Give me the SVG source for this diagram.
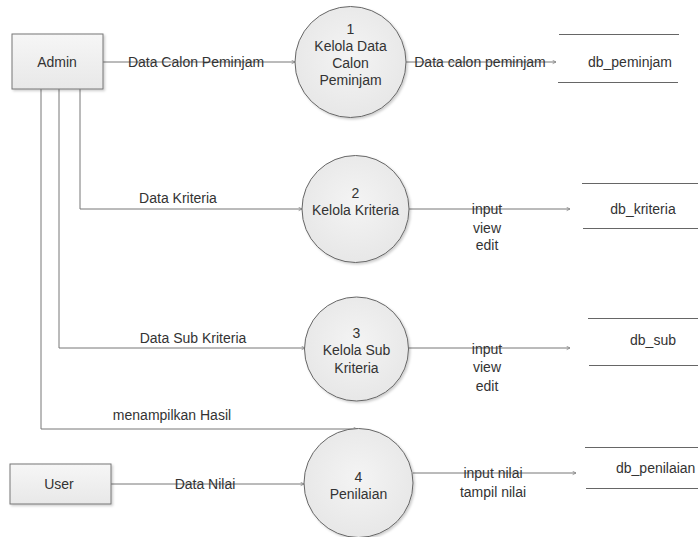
<svg xmlns="http://www.w3.org/2000/svg" width="698" height="537" viewBox="0 0 698 537">
  <defs>
    <linearGradient id="boxFill" x1="0" y1="0" x2="0" y2="1">
      <stop offset="0" stop-color="#f6f6f6"/>
      <stop offset="1" stop-color="#e8e8e8"/>
    </linearGradient>
    <radialGradient id="procFill" cx="0.5" cy="0.45" r="0.6">
      <stop offset="0" stop-color="#f4f4f4"/>
      <stop offset="1" stop-color="#e6e6e6"/>
    </radialGradient>
    <marker id="arrow" viewBox="0 0 6 6" refX="5" refY="3" markerWidth="5" markerHeight="5" orient="auto" markerUnits="userSpaceOnUse">
      <path d="M1,1 L5,3 L1,5" fill="none" stroke="#888" stroke-width="1"/>
    </marker>
    <filter id="shadow" x="-10%" y="-10%" width="130%" height="130%">
      <feDropShadow dx="1.5" dy="1.5" stdDeviation="1" flood-color="#000" flood-opacity="0.2"/>
    </filter>
  </defs>
  <style>
    text { font-family: "Liberation Sans", Arial, sans-serif; font-size: 14px; fill: #333; }
    .c { text-anchor: middle; dominant-baseline: central; }
    .entity { fill: url(#boxFill); stroke: #777; stroke-width: 1; filter: url(#shadow); }
    .proc { fill: url(#procFill); stroke: #666; stroke-width: 1; filter: url(#shadow); }
    .store { stroke: #666; stroke-width: 1; fill: none; }
    .flow { fill: none; stroke: #777; stroke-width: 1; marker-end: url(#arrow); }
  </style>
  <rect width="698" height="537" fill="#fff"/>

  <!-- data flows -->
  <g id="connectors">
    <path class="flow" d="M103,62 H295"/>
    <path class="flow" d="M406,62 H556"/>
    <path class="flow" d="M80,89 V209 H302"/>
    <path class="flow" d="M409,209 H570"/>
    <path class="flow" d="M59,89 V348 H305"/>
    <path class="flow" d="M408,348 H570"/>
    <path class="flow" d="M41,89 V429 H357"/>
    <path class="flow" d="M111,484 H304"/>
    <path class="flow" d="M413,473 H576"/>
    <text class="c" x="196" y="62">Data Calon Peminjam</text>
    <text class="c" x="480" y="62">Data calon peminjam</text>
    <text class="c" x="178" y="198">Data Kriteria</text>
    <text class="c" x="487" y="209">input</text>
    <text class="c" x="487" y="228">view</text>
    <text class="c" x="487" y="245">edit</text>
    <text class="c" x="193" y="338">Data Sub Kriteria</text>
    <text class="c" x="487" y="349">input</text>
    <text class="c" x="487" y="367">view</text>
    <text class="c" x="487" y="386">edit</text>
    <text class="c" x="172" y="415">menampilkan Hasil</text>
    <text class="c" x="205" y="484">Data Nilai</text>
    <text class="c" x="493" y="473">input nilai</text>
    <text class="c" x="493" y="492">tampil nilai</text>
  </g>

  <!-- external entities -->
  <g id="admin">
    <rect class="entity" x="12" y="34" width="91" height="55"/>
    <text class="c" x="57" y="62">Admin</text>
  </g>
  <g id="user">
    <rect class="entity" x="10" y="464" width="101" height="40"/>
    <text class="c" x="59" y="484">User</text>
  </g>

  <!-- processes -->
  <g id="proc1">
    <circle class="proc" cx="350.5" cy="62" r="55.5"/>
    <text class="c" x="350.5" y="29">1</text>
    <text class="c" x="350.5" y="46">Kelola Data</text>
    <text class="c" x="350.5" y="63">Calon</text>
    <text class="c" x="350.5" y="80">Peminjam</text>
  </g>
  <g id="proc2">
    <circle class="proc" cx="355.5" cy="209" r="53.5"/>
    <text class="c" x="355.5" y="193">2</text>
    <text class="c" x="355.5" y="210">Kelola Kriteria</text>
  </g>
  <g id="proc3">
    <circle class="proc" cx="356.5" cy="349" r="52"/>
    <text class="c" x="356.5" y="333">3</text>
    <text class="c" x="356.5" y="350">Kelola Sub</text>
    <text class="c" x="356.5" y="368">Kriteria</text>
  </g>
  <g id="proc4">
    <circle class="proc" cx="358.5" cy="483" r="54.5"/>
    <text class="c" x="358.5" y="477">4</text>
    <text class="c" x="358.5" y="494">Penilaian</text>
  </g>

  <!-- data stores -->
  <g id="db_peminjam">
    <line class="store" x1="559" y1="34.5" x2="679" y2="34.5"/>
    <line class="store" x1="558" y1="82.5" x2="678" y2="82.5"/>
    <text class="c" x="630" y="62">db_peminjam</text>
  </g>
  <g id="db_kriteria">
    <line class="store" x1="582" y1="183.5" x2="698" y2="183.5"/>
    <line class="store" x1="583" y1="228.5" x2="698" y2="228.5"/>
    <text class="c" x="643" y="209">db_kriteria</text>
  </g>
  <g id="db_sub">
    <line class="store" x1="588" y1="318.5" x2="698" y2="318.5"/>
    <line class="store" x1="589" y1="365.5" x2="698" y2="365.5"/>
    <text class="c" x="653" y="340">db_sub</text>
  </g>
  <g id="db_penilaian">
    <line class="store" x1="585" y1="447.5" x2="698" y2="447.5"/>
    <line class="store" x1="586" y1="488.5" x2="698" y2="488.5"/>
    <text x="616" y="468" dominant-baseline="central">db_penilaian</text>
  </g>
</svg>
